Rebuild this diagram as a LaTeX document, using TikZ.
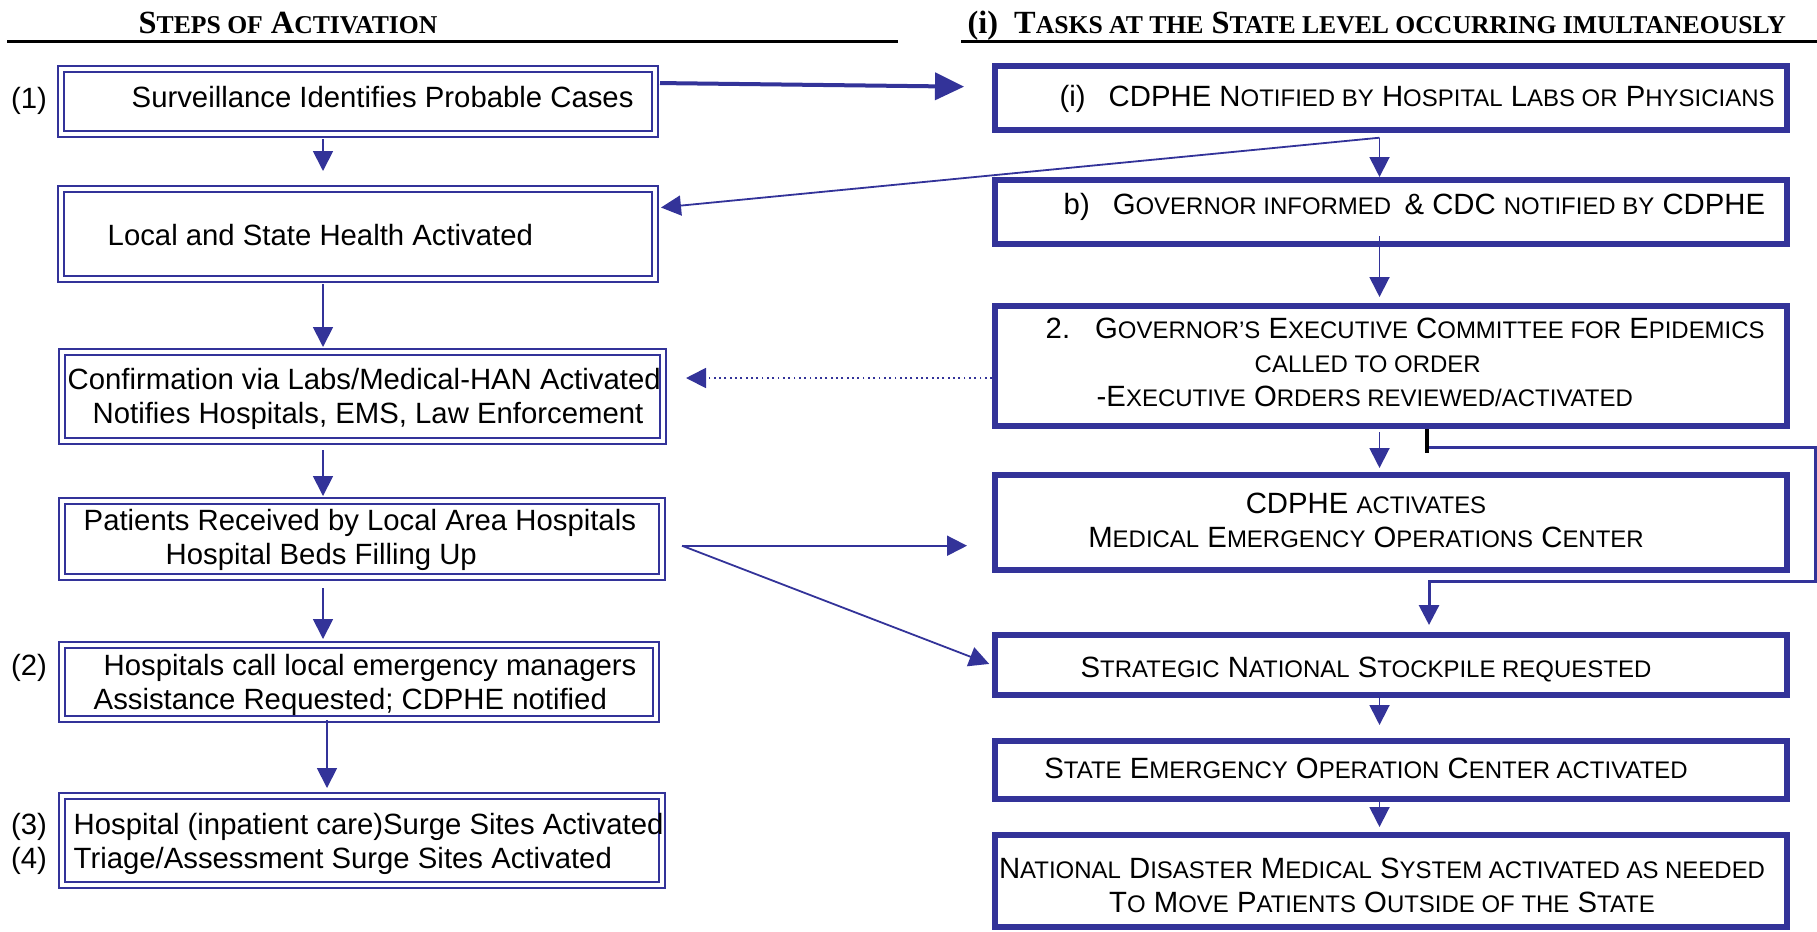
\documentclass[tikz,border=0pt]{standalone}
\usepackage{fontspec}
\setmainfont{Liberation Sans}
\newfontfamily\headfont{Liberation Serif}
\usetikzlibrary{arrows.meta}

\definecolor{planblue}{RGB}{51,51,153}

% text sizes
\newcommand{\boxfont}{\fontsize{8.34pt}{9.67pt}\selectfont}
\newcommand{\lowcaps}[1]{{\fontsize{6.82pt}{9.67pt}\selectfont #1}}
\newcommand{\headcaps}[1]{{\fontsize{7.3pt}{11pt}\selectfont #1}}

\tikzset{
  stepbox/.style={draw=planblue, double, double distance=0.035cm, line width=0.02cm, inner sep=0pt},
  taskbox/.style={draw=planblue, line width=0.06cm, inner sep=0pt},
  boxtext/.style={inner sep=0pt, align=left, font=\boxfont},
  headtext/.style={inner sep=0pt, font=\headfont\bfseries\fontsize{9.2pt}{11pt}\selectfont},
  flow/.style={planblue, line width=0.018cm, -{Triangle[length=0.2cm,width=0.2cm]}},
}

\begin{document}
\begin{tikzpicture}
\useasboundingbox (0,0) rectangle (18.17,9.31);

% Headings
\node[headtext, anchor=base west] (hl) at (1.38,8.98) {S\headcaps{TEPS OF} A\headcaps{CTIVATION}};
\draw[line width=0.025cm] (0.07,8.893) -- (8.98,8.893);
\node[headtext, anchor=base west] (hr) at (9.67,8.98) {(i)\hspace{0.16cm}T\headcaps{ASKS AT THE} S\headcaps{TATE LEVEL OCCURRING IMULTANEOUSLY}};
\draw[line width=0.025cm] (9.61,8.893) -- (18.17,8.893);

% Steps (left column)
\node[stepbox, minimum width=5.94cm, minimum height=0.65cm] (s1) at (3.58,8.295) {};
\node[stepbox, minimum width=5.94cm, minimum height=0.90cm] (s2) at (3.58,6.97) {};
\node[stepbox, minimum width=6.01cm, minimum height=0.89cm] (s3) at (3.625,5.345) {};
\node[stepbox, minimum width=6.00cm, minimum height=0.76cm] (s4) at (3.62,3.92) {};
\node[stepbox, minimum width=5.94cm, minimum height=0.74cm] (s5) at (3.59,2.49) {};
\node[stepbox, minimum width=6.00cm, minimum height=0.89cm] (s6) at (3.62,0.905) {};

% (base of a two-line text sits on its last line)
\node[boxtext, anchor=base west] (s1t) at (1.31,8.235) {Surveillance Identifies Probable Cases};
\node[boxtext, anchor=base west] (s2t) at (1.07,6.855) {Local and State Health Activated};
\node[boxtext, anchor=base west] (s3t) at (0.67,5.075) {Confirmation via Labs/Medical-HAN Activated\\\hspace*{0.25cm}Notifies Hospitals, EMS, Law Enforcement};
\node[boxtext, anchor=base west] (s4t) at (0.83,3.665) {Patients Received by Local Area Hospitals\\\hspace*{0.82cm}Hospital Beds Filling Up};
\node[boxtext, anchor=base west] (s5t) at (0.93,2.215) {\hspace*{0.10cm}Hospitals call local emergency managers\\Assistance Requested; CDPHE notified};
\node[boxtext, anchor=base west] (s6t) at (0.73,0.625) {Hospital (inpatient care)Surge Sites Activated\\Triage/Assessment Surge Sites Activated};

\node[boxtext, anchor=base] (n1) at (0.29,8.225) {(1)};
\node[boxtext, anchor=base] (n2) at (0.29,2.555) {(2)};
\node[boxtext, anchor=base] (n3) at (0.29,0.965) {(3)};
\node[boxtext, anchor=base] (n4) at (0.29,0.625) {(4)};

% Tasks (right column)
\node[taskbox, minimum width=7.92cm, minimum height=0.64cm] (r1) at (13.91,8.33) {};
\node[taskbox, minimum width=7.92cm, minimum height=0.64cm] (r2) at (13.91,7.19) {};
\node[taskbox, minimum width=7.92cm, minimum height=1.20cm] (r3) at (13.91,5.65) {};
\node[taskbox, minimum width=7.92cm, minimum height=0.95cm] (r4) at (13.91,4.085) {};
\node[taskbox, minimum width=7.92cm, minimum height=0.60cm] (r5) at (13.91,2.66) {};
\node[taskbox, minimum width=7.92cm, minimum height=0.58cm] (r6) at (13.91,1.61) {};
\node[taskbox, minimum width=7.92cm, minimum height=0.92cm] (r7) at (13.91,0.50) {};

\node[boxtext, anchor=base west] (r1t) at (10.59,8.25) {(i)\hspace{0.23cm}CDPHE N\lowcaps{OTIFIED BY} H\lowcaps{OSPITAL} L\lowcaps{ABS OR} P\lowcaps{HYSICIANS}};
\node[boxtext, anchor=base west] (r2t) at (10.63,7.165) {b)\hspace{0.23cm}G\lowcaps{OVERNOR INFORMED\ \ }\& CDC \lowcaps{NOTIFIED BY} CDPHE};
\node[boxtext, anchor=base west] (r3t) at (10.45,5.245) {2.\hspace{0.25cm}G\lowcaps{OVERNOR'S} E\lowcaps{XECUTIVE} C\lowcaps{OMMITTEE FOR} E\lowcaps{PIDEMICS}\\\hspace*{2.09cm}\lowcaps{CALLED TO ORDER}\\\hspace*{0.51cm}-E\lowcaps{XECUTIVE} O\lowcaps{RDERS REVIEWED/ACTIVATED}};
\node[boxtext, align=center, anchor=base] (r4t) at (13.66,3.835) {CDPHE \lowcaps{ACTIVATES}\\M\lowcaps{EDICAL} E\lowcaps{MERGENCY} O\lowcaps{PERATIONS} C\lowcaps{ENTER}};
\node[boxtext, anchor=base] (r5t) at (13.66,2.535) {S\lowcaps{TRATEGIC} N\lowcaps{ATIONAL} S\lowcaps{TOCKPILE REQUESTED}};
\node[boxtext, anchor=base] (r6t) at (13.66,1.525) {S\lowcaps{TATE} E\lowcaps{MERGENCY} O\lowcaps{PERATION} C\lowcaps{ENTER ACTIVATED}};
\node[boxtext, align=center, anchor=base] (r7t) at (13.82,0.185) {N\lowcaps{ATIONAL} D\lowcaps{ISASTER} M\lowcaps{EDICAL} S\lowcaps{YSTEM ACTIVATED AS NEEDED}\\T\lowcaps{O} M\lowcaps{OVE} P\lowcaps{ATIENTS} O\lowcaps{UTSIDE OF THE} S\lowcaps{TATE}};

% Step arrows
\coordinate (lspine) at (3.23,0);
\draw[flow, shorten <=0.04cm, shorten >=0.17cm] (s1.south -| lspine) -- (s2.north -| lspine);
\draw[flow, shorten <=0.04cm, shorten >=0.04cm] (s2.south -| lspine) -- (s3.north -| lspine);
\draw[flow, shorten <=0.08cm, shorten >=0.04cm] (s3.south -| lspine) -- (s4.north -| lspine);
\draw[flow, shorten <=0.10cm, shorten >=0.05cm] (s4.south -| lspine) -- (s5.north -| lspine);
\draw[flow, shorten >=0.07cm] ([xshift=-0.32cm]s5.south) -- ([xshift=-0.35cm]s6.north);

% Surveillance hands over to CDPHE
\draw[flow, line width=0.04cm, -{Triangle[length=0.29cm,width=0.27cm]}, shorten <=0.04cm, shorten >=0.28cm] ([yshift=0.185cm]s1.east) -- ([yshift=0.11cm]r1.west);

% CDPHE notification branches
\coordinate (j1) at (13.795,7.933);
\draw[flow] (j1) -- (r2.north -| j1);
\draw[flow, shorten >=0.05cm] (j1) -- ([yshift=0.26cm]s2.east);

% Task arrows
\coordinate (rspine) at (13.795,0);
\draw[flow, shorten <=-0.11cm, shorten >=0.06cm] (r2.south -| rspine) -- (r3.north -| rspine);
\draw[flow, shorten <=0.03cm, shorten >=0.04cm] (r3.south -| rspine) -- (r4.north -| rspine);
\draw[flow, shorten <=-0.06cm, shorten >=0.13cm] (r5.south -| rspine) -- (r6.north -| rspine);
\draw[flow, shorten <=-0.02cm, shorten >=0.05cm] (r6.south -| rspine) -- (r7.north -| rspine);

% Committee back to HAN
\draw[flow, densely dotted, shorten >=0.22cm] ([yshift=-0.12cm]r3.west) -- ([yshift=-0.12cm]r3.west -| s3.east);

% Hospitals to MEOC and SNS
\coordinate (j4) at (6.82,3.853);
\draw[flow, shorten >=0.25cm] (j4) -- (j4 -| r4.west);
\draw[flow, shorten >=0.03cm] (j4) -- (r5.west);

% Committee around MEOC to SNS
\draw[black, line width=0.04cm] ([xshift=0.36cm]r3.south) -- ++(0,-0.24);
\coordinate (k1) at (14.29,4.84);
\coordinate (k2) at (14.29,3.50);
\draw[flow, line width=0.03cm, shorten >=0.07cm] (k1) -- ++(3.865,0) |- (k2) -- (k2 |- r5.north);
\end{tikzpicture}
\end{document}
